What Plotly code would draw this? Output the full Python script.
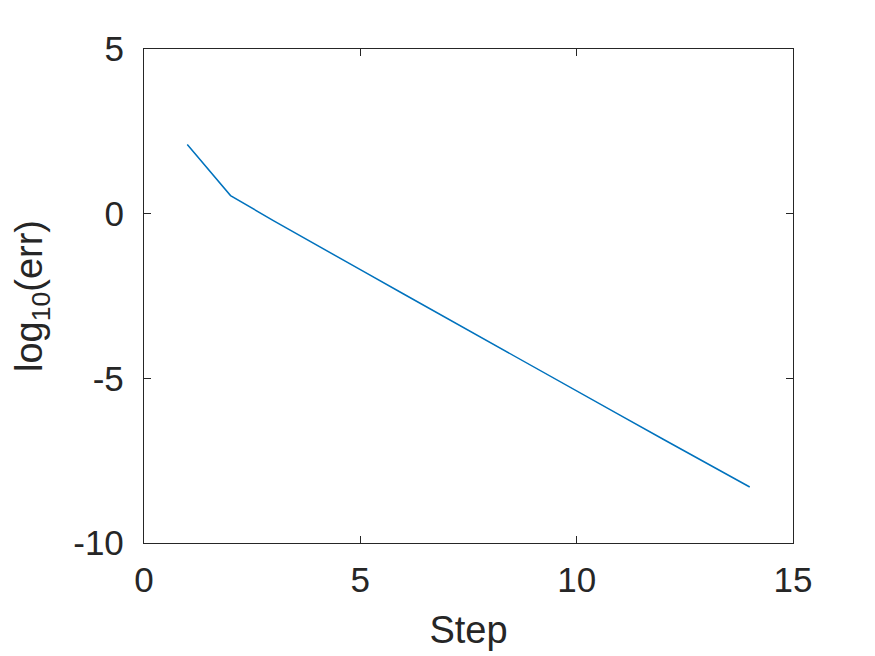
import plotly.graph_objects as go

# data
steps = [1, 2, 3, 4, 5, 6, 7, 8, 9, 10, 11, 12, 13, 14]
log_err = [2.1, 0.55, -0.22, -0.97, -1.7, -2.44, -3.18, -3.92, -4.65, -5.38, -6.12, -6.85, -7.58, -8.3]

x_ticks = [0, 5, 10, 15]
y_ticks = [-10, -5, 0, 5]
y_tick_text = ["-10", "-5", "0", "5"]

axis_color = "#262626"
font_family = "Liberation Sans, Arial, sans-serif"

fig = go.Figure()
fig.add_trace(go.Scatter(
    x=steps, y=log_err,
    mode="lines",
    line=dict(color="#0072BD", width=1.5),
    showlegend=False,
))

axis_common = dict(
    showline=True, linecolor=axis_color, linewidth=1.3, mirror="ticks",
    ticks="inside", ticklen=7, tickwidth=1.3, tickcolor=axis_color,
    showgrid=False, zeroline=False,
    tickfont=dict(family=font_family, size=35, color=axis_color),
)

# page has an 8px body margin, so the figure is a bit smaller than the window
fig.update_layout(
    width=867, height=648,
    margin=dict(l=136, r=82, t=41, b=113, autoexpand=False),
    paper_bgcolor="white", plot_bgcolor="white",
    xaxis=dict(
        range=[0, 15], tickvals=x_ticks,
        ticklabelstandoff=6,
        title=dict(text="Step", font=dict(family=font_family, size=38, color=axis_color), standoff=18),
        **axis_common,
    ),
    yaxis=dict(
        range=[-10, 5], tickvals=y_ticks, ticktext=y_tick_text,
        ticklabelstandoff=12,
        title=dict(text="log<sub>10</sub>(err)", font=dict(family=font_family, size=38, color=axis_color), standoff=18),
        **axis_common,
    ),
)

fig.write_html("out.html")
